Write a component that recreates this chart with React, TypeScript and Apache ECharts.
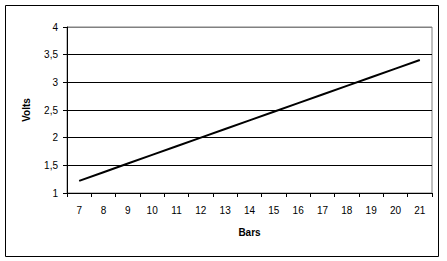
import React, { useEffect, useRef } from "react";
import * as echarts from "echarts";

const categories = ["7", "8", "9", "10", "11", "12", "13", "14", "15", "16", "17", "18", "19", "20", "21"];
const volts = [1.22, 1.376, 1.532, 1.688, 1.844, 2.0, 2.156, 2.312, 2.468, 2.624, 2.78, 2.936, 3.092, 3.248, 3.404];
const xName = "Bars";
const yName = "Volts";

export default function App() {
  const ref = useRef<HTMLDivElement>(null);
  useEffect(() => {
    document.body.style.margin = "0";
    const chart = echarts.init(ref.current!, null, { renderer: "svg" });
    const font = "Liberation Sans, Arial, sans-serif";
    chart.setOption({
      animation: false,
      backgroundColor: "#ffffff",
      graphic: [
        {
          type: "rect",
          shape: { x: 5.5, y: 5.5, width: 433, height: 251 },
          style: { fill: "none", stroke: "#000", lineWidth: 1 },
          silent: true,
        },
      ],
      grid: {
        left: 67,
        top: 27,
        right: 15,
        bottom: 68,
        show: true,
        borderColor: "#808080",
        borderWidth: 1,
        backgroundColor: "transparent",
      },
      xAxis: {
        type: "category",
        data: categories,
        boundaryGap: true,
        name: xName,
        nameLocation: "middle",
        nameGap: 34,
        nameTextStyle: { fontFamily: font, fontSize: 10, fontWeight: "bold", color: "#000" },
        axisLine: { lineStyle: { color: "#000", width: 1 } },
        axisTick: { show: true, length: 4, inside: false, alignWithLabel: false, lineStyle: { color: "#000" } },
        axisLabel: { fontFamily: font, fontSize: 10, color: "#000", margin: 12, interval: 0 },
        splitLine: { show: false },
      },
      yAxis: {
        type: "value",
        min: 1,
        max: 4,
        interval: 0.5,
        name: yName,
        nameLocation: "middle",
        nameGap: 36,
        nameRotate: 90,
        nameTextStyle: { fontFamily: font, fontSize: 10, fontWeight: "bold", color: "#000" },
        axisLine: { show: true, lineStyle: { color: "#000", width: 1 } },
        axisTick: { show: true, length: 4, lineStyle: { color: "#000" } },
        axisLabel: {
          fontFamily: font,
          fontSize: 10,
          color: "#000",
          margin: 9,
          formatter: (v: number) => String(v).replace(".", ","),
        },
        splitLine: {
          show: true,
          lineStyle: { color: ["#000", "#000", "#000", "#000", "#000", "#000", "#808080"], width: 1 },
        },
      },
      series: [
        {
          type: "line",
          data: volts,
          symbol: "none",
          lineStyle: { color: "#000", width: 2 },
          z: 5,
        },
      ],
    });
    return () => chart.dispose();
  }, []);
  return <div ref={ref} style={{ width: 447, height: 261 }} />;
}
